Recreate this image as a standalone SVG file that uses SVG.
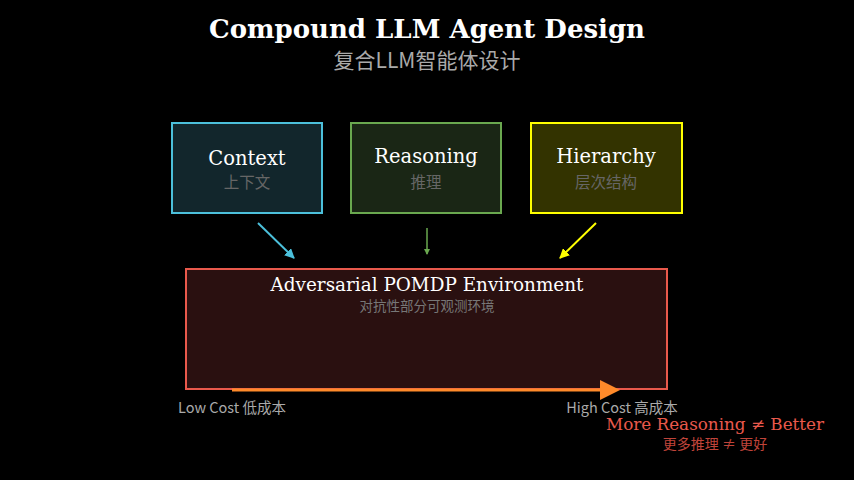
<svg xmlns="http://www.w3.org/2000/svg" width="854" height="480" viewBox="0 0 854 480">
<style>
.en{font-family:"DejaVu Serif",serif;fill:#fff;text-anchor:middle}
.cn{font-family:"Noto Sans CJK SC",sans-serif;text-anchor:middle}
</style>
<defs>
<marker id="mb" markerWidth="10" markerHeight="10" refX="9" refY="5" orient="auto" markerUnits="userSpaceOnUse" viewBox="0 0 10 10"><path d="M0,0L10,5L0,10z" fill="#4cc0db"/></marker>
<marker id="mg" markerWidth="6" markerHeight="6" refX="5" refY="3" orient="auto" markerUnits="userSpaceOnUse" viewBox="0 0 6 6"><path d="M0,0L6,3L0,6z" fill="#6aa84f"/></marker>
<marker id="my" markerWidth="10" markerHeight="10" refX="9" refY="5" orient="auto" markerUnits="userSpaceOnUse" viewBox="0 0 10 10"><path d="M0,0L10,5L0,10z" fill="#ffff00"/></marker>
<marker id="mo" markerWidth="20" markerHeight="20" refX="2" refY="10" orient="auto" markerUnits="userSpaceOnUse" viewBox="0 0 20 20"><path d="M0,0L20,10L0,20z" fill="#ff8a2a"/></marker>
</defs>
<rect width="854" height="480" fill="#000"/>
<text x="427" y="38" class="en" font-size="26" font-weight="bold">Compound LLM Agent Design</text>
<text x="427" y="68" class="cn" font-size="21" fill="#aaa">复合LLM智能体设计</text>
<g id="context"><rect x="172" y="123" width="150" height="90" fill="#12262c" stroke="#4cc0db" stroke-width="2"/><text x="247" y="165" class="en" font-size="19.5">Context</text><text x="247" y="188" class="cn" font-size="15.5" fill="#666">上下文</text></g>
<g id="reasoning"><rect x="351" y="123" width="150" height="90" fill="#1a2615" stroke="#6aa84f" stroke-width="2"/><text x="426" y="163" class="en" font-size="19.5">Reasoning</text><text x="426" y="188" class="cn" font-size="15.5" fill="#666">推理</text></g>
<g id="hierarchy"><rect x="531" y="123" width="151" height="90" fill="#333300" stroke="#ffff00" stroke-width="2"/><text x="606" y="163" class="en" font-size="19.5">Hierarchy</text><text x="606" y="188" class="cn" font-size="15.5" fill="#666">层次结构</text></g>
<g id="env"><rect x="186" y="269" width="481" height="120" fill="#2a1010" stroke="#e9594c" stroke-width="2"/><text x="427" y="291" class="en" font-size="18.4">Adversarial POMDP Environment</text><text x="427" y="311" class="cn" font-size="13.5" fill="#777">对抗性部分可观测环境</text></g>
<g id="connectors">
<line x1="258" y1="223" x2="294" y2="258" stroke="#4cc0db" stroke-width="2" marker-end="url(#mb)"/>
<line x1="427" y1="228" x2="427" y2="254" stroke="#6aa84f" stroke-width="1.5" marker-end="url(#mg)"/>
<line x1="596" y1="223" x2="560" y2="258" stroke="#ffff00" stroke-width="2" marker-end="url(#my)"/>
<line x1="232" y1="390" x2="602" y2="390" stroke="#ff8a2a" stroke-width="3" marker-end="url(#mo)"/>
</g>
<text x="232" y="413" class="cn" font-size="14.5" fill="#aaa">Low Cost 低成本</text>
<text x="622" y="413" class="cn" font-size="14.5" fill="#aaa">High Cost 高成本</text>
<text x="715" y="430" class="en" font-size="16.8" style="fill:#e9594c">More Reasoning ≠ Better</text>
<text x="715" y="449" class="cn" font-size="14" fill="#c0443a">更多推理 ≠ 更好</text>
</svg>
